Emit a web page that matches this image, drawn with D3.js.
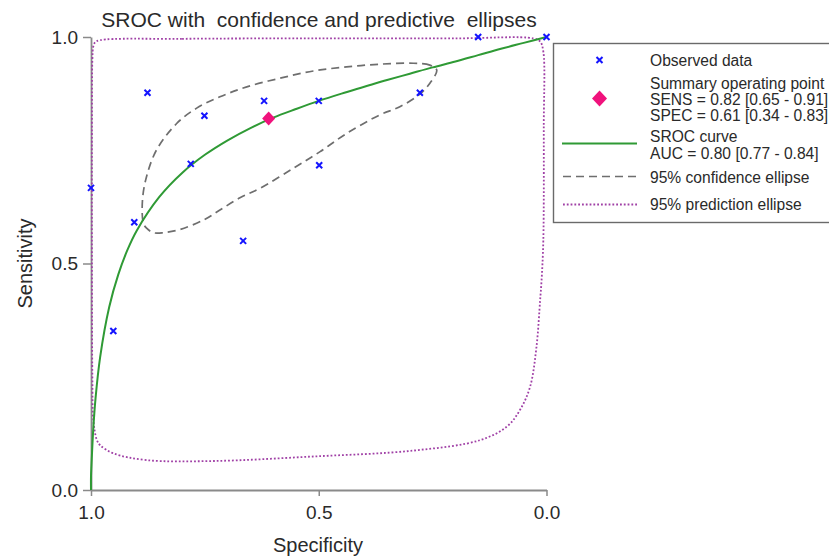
<!DOCTYPE html>
<html>
<head>
<meta charset="utf-8">
<script src="https://cdn.jsdelivr.net/npm/d3@7"></script>
<style>
  html, body { margin: 0; padding: 0; background: #fff; }
  svg { display: block; font-family: "Liberation Sans", Arial, sans-serif; }
</style>
</head>
<body>
<svg id="chart" width="829" height="560"></svg>
<script>
// ---------------- data ----------------
const obsSpec = [0.15, 0.00, 0.876, 0.62, 0.50, 0.278, 0.751, 0.781, 0.499, 1.00, 0.905, 0.666, 0.951];
const obsSens = [1.00, 1.00, 0.877, 0.859, 0.859, 0.877, 0.826, 0.720, 0.717, 0.667, 0.591, 0.550, 0.351];

const summarySpec = 0.61;
const summarySens = 0.82;

const srocSpec = [1.0, 1.0, 0.999, 0.995, 0.99, 0.98, 0.96, 0.94, 0.92, 0.90, 0.85, 0.80, 0.75, 0.70, 0.65, 0.60, 0.55, 0.50, 0.45, 0.40, 0.35, 0.30, 0.25, 0.20, 0.15, 0.10, 0.05, 0.0];
const srocSens = [0.0, 0.03, 0.055, 0.135, 0.203, 0.293, 0.404, 0.476, 0.530, 0.572, 0.647, 0.700, 0.740, 0.772, 0.799, 0.822, 0.841, 0.859, 0.875, 0.890, 0.905, 0.919, 0.933, 0.946, 0.960, 0.974, 0.987, 1.0];

const confSpec = [0.241, 0.256, 0.292, 0.366, 0.439, 0.512, 0.585, 0.658, 0.717, 0.768, 0.812, 0.856, 0.878, 0.887, 0.885, 0.878, 0.863, 0.841, 0.805, 0.753, 0.717, 0.673, 0.629, 0.556, 0.497, 0.439, 0.366, 0.322, 0.278, 0.256];
const confSens = [0.927, 0.938, 0.942, 0.940, 0.934, 0.925, 0.909, 0.890, 0.868, 0.843, 0.809, 0.751, 0.692, 0.640, 0.589, 0.578, 0.568, 0.568, 0.575, 0.596, 0.618, 0.645, 0.666, 0.710, 0.747, 0.787, 0.828, 0.846, 0.874, 0.898];

const predSpec = [0.980, 0.80, 0.50, 0.20, 0.029, 0.014, 0.007, 0.006, 0.007, 0.011, 0.014, 0.022, 0.036, 0.058, 0.087, 0.146, 0.292, 0.512, 0.731, 0.878, 0.951, 0.980, 0.987, 0.995, 0.997, 0.998, 0.998, 0.997, 0.995, 0.991];
const predSens = [0.993, 0.996, 0.997, 0.997, 0.997, 0.990, 0.968, 0.800, 0.550, 0.460, 0.419, 0.316, 0.228, 0.177, 0.140, 0.110, 0.087, 0.074, 0.064, 0.066, 0.081, 0.099, 0.110, 0.155, 0.250, 0.500, 0.800, 0.950, 0.979, 0.988];

const tickValues = [0, 0.5, 1];
const titleText = "SROC with  confidence and predictive  ellipses";
const xLabel = "Specificity";
const yLabel = "Sensitivity";
const legendLabels = [
  ["Observed data"],
  ["Summary operating point", "SENS = 0.82 [0.65 - 0.91]", "SPEC = 0.61 [0.34 - 0.83]"],
  ["SROC curve", "AUC = 0.80 [0.77 - 0.84]"],
  ["95% confidence ellipse"],
  ["95% prediction ellipse"]
];

// ---------------- chart ----------------
const svg = d3.select("#chart");
const x = d3.scaleLinear().domain([1, 0]).range([91, 546.5]);
const y = d3.scaleLinear().domain([0, 1]).range([490, 37]);

const axisColor = "#8a8a8a";
const textColor = "#2a2a2a";

// axes
const gx = svg.append("g").attr("transform", "translate(0,490)")
  .call(d3.axisBottom(x).tickValues(tickValues).tickFormat(d3.format(".1f")).tickSize(6).tickSizeOuter(0).tickPadding(10));
const gy = svg.append("g").attr("transform", "translate(91,0)")
  .call(d3.axisLeft(y).tickValues(tickValues).tickFormat(d3.format(".1f")).tickSize(8).tickSizeOuter(0).tickPadding(5));
[gx, gy].forEach(g => {
  g.select(".domain").attr("stroke", axisColor).attr("stroke-width", 1.8);
  g.selectAll(".tick line").attr("stroke", axisColor).attr("stroke-width", 1.5);
  g.selectAll(".tick text").attr("fill", textColor).attr("font-size", 19)
    .attr("font-family", "Liberation Sans, Arial, sans-serif");
});

// titles
svg.append("text").attr("x", 319).attr("y", 27).attr("text-anchor", "middle")
  .attr("font-size", 21).attr("fill", textColor).style("white-space", "pre")
  .text(titleText);
svg.append("text").attr("x", 318).attr("y", 552).attr("text-anchor", "middle")
  .attr("font-size", 20).attr("fill", textColor).text(xLabel);
svg.append("text").attr("transform", "translate(31.5,263.5) rotate(-90)").attr("text-anchor", "middle")
  .attr("font-size", 20).attr("fill", textColor).text(yLabel);

const predColor = "#a040a6";
const predDash = "1.8,2";

// prediction ellipse
const predPts = predSpec.map((s, i) => [s, predSens[i]]);
svg.append("path").datum(predPts)
  .attr("d", d3.line().x(d => x(d[0])).y(d => y(d[1])).curve(d3.curveCatmullRomClosed.alpha(0.5)))
  .attr("fill", "none").attr("stroke", predColor).attr("stroke-width", 1.8)
  .attr("stroke-dasharray", predDash);

// confidence ellipse
const confPts = confSpec.map((s, i) => [s, confSens[i]]);
svg.append("path").datum(confPts)
  .attr("d", d3.line().x(d => x(d[0])).y(d => y(d[1])).curve(d3.curveCatmullRomClosed.alpha(0.5)))
  .attr("fill", "none").attr("stroke", "#6e6e6e").attr("stroke-width", 1.7)
  .attr("stroke-dasharray", "8,5");

// SROC curve
const srocPts = srocSpec.map((s, i) => [s, srocSens[i]]);
svg.append("path").datum(srocPts)
  .attr("d", d3.line().x(d => x(d[0])).y(d => y(d[1])).curve(d3.curveCatmullRom.alpha(0.5)))
  .attr("fill", "none").attr("stroke", "#2f9a35").attr("stroke-width", 2);

// observed data
const xMark = "M-3,-3L3,3M-3,3L3,-3";
svg.append("g").selectAll("path").data(obsSpec.map((s, i) => [s, obsSens[i]])).join("path")
  .attr("transform", d => `translate(${x(d[0])},${y(d[1])})`)
  .attr("d", xMark).attr("stroke", "#1414ff").attr("stroke-width", 2).attr("fill", "none");

// summary point
const diamond = "M0,-7L6.5,0L0,7L-6.5,0Z";
svg.append("path").attr("transform", `translate(${x(summarySpec)},${y(summarySens)})`)
  .attr("d", diamond).attr("fill", "#f0127c");

// ---------------- legend ----------------
const lg = svg.append("g");
lg.append("rect").attr("x", 553.5).attr("y", 43.5).attr("width", 300).attr("height", 179)
  .attr("fill", "#fff").attr("stroke", "#6a6a6a").attr("stroke-width", 1.4);
lg.append("path").attr("transform", "translate(599.5,60)").attr("d", xMark)
  .attr("stroke", "#1414ff").attr("stroke-width", 2).attr("fill", "none");
lg.append("path").attr("transform", "translate(599.5,98.5)").attr("d", "M0,-8L7.5,0L0,8L-7.5,0Z")
  .attr("fill", "#f0127c");
lg.append("line").attr("x1", 562).attr("x2", 637).attr("y1", 143.5).attr("y2", 143.5)
  .attr("stroke", "#2f9a35").attr("stroke-width", 2);
lg.append("line").attr("x1", 563).attr("x2", 637).attr("y1", 176.5).attr("y2", 176.5)
  .attr("stroke", "#6e6e6e").attr("stroke-width", 1.7).attr("stroke-dasharray", "8,5");
lg.append("line").attr("x1", 563).attr("x2", 637).attr("y1", 204.5).attr("y2", 204.5)
  .attr("stroke", predColor).attr("stroke-width", 1.8).attr("stroke-dasharray", predDash);

const baselines = [[66], [89, 105, 120.5], [141.5, 158.5], [182.5], [210]];
legendLabels.forEach((lines, i) => {
  lines.forEach((t, j) => {
    lg.append("text").attr("x", 650).attr("y", baselines[i][j])
      .attr("font-size", 15.6).attr("fill", textColor).style("white-space", "pre").text(t);
  });
});
</script>
</body>
</html>
